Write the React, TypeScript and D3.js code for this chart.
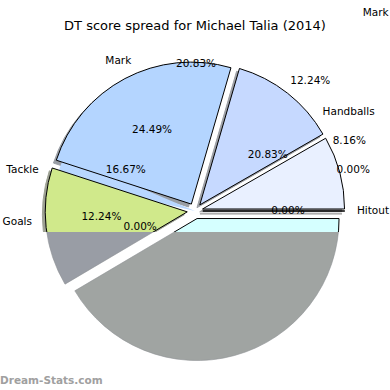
import React from "react";
import * as d3 from "d3";

// ---------- data ----------
const title = "DT score spread for Michael Talia (2014)";
const sliceKeys = ["Hitout", "s2", "Handballs", "Mark", "Tackle", "Goals", "s7"];
const sliceShares = [0, 8.3, 12.2, 24.5, 0, 13.5, 41.5];
const outerLabelTexts = ["Hitout", "0.00%", "8.16%", "Handballs", "12.24%", "20.83%", "Mark", "Tackle", "Goals", "Mark"];
const innerLabelTexts = ["0.00%", "20.83%", "24.49%", "16.67%", "12.24%", "0.00%"];
const watermark = "Dream-Stats.com";

// ---------- styles / layout ----------
const W = 390;
const H = 390;
const CX = 195;
const CY = 211;
const R = 142;
const EXPLODE = 0.055;
const OVERLAY_TOP = 232;
const sliceColors = ["#ffffff", "#e9f0ff", "#c6d9ff", "#b4d5ff", "#b8d7ff", "#d0e98b", "#d5ffff"];
const overlayColors: Record<string, string> = { Goals: "#999da5", s7: "#a0a4a2" };
const bandHalfWidthDeg: Record<string, number> = { Tackle: 5 };
// polar label layout: angle in degrees (counter-clockwise from 3 o'clock), distance in radii
const outerLabelLayout = [
  { a: 0.4, d: 1.14, anchor: "start" },
  { a: 16.5, d: 1.04, anchor: "start" },
  { a: 27.2, d: 1.09, anchor: "start" },
  { a: 38, d: 1.14, anchor: "start" },
  { a: 48.7, d: 1.23, anchor: "middle" },
  { a: 89.6, d: 1.04, anchor: "middle" },
  { a: 117, d: 1.19, anchor: "middle" },
  { a: 165, d: 1.14, anchor: "end" },
  { a: 183.5, d: 1.15, anchor: "end" },
  { a: 47.7, d: 1.89, anchor: "middle" },
];
const innerLabelLayout = [
  { a: 0.6, d: 0.655 },
  { a: 38, d: 0.65 },
  { a: 117.7, d: 0.65 },
  { a: 148.7, d: 0.57 },
  { a: 183, d: 0.66 },
  { a: 195, d: 0.4 },
];

const FONT = "'DejaVu Sans', sans-serif";
const LABEL_SIZE = 10.5;

function polar(aDeg: number, d: number) {
  const a = (aDeg * Math.PI) / 180;
  return [CX + d * R * Math.cos(a), CY - d * R * Math.sin(a)];
}

export default function App() {
  const pie = d3
    .pie<number>()
    .sort(null)
    .startAngle(Math.PI / 2)
    .endAngle(Math.PI / 2 - 2 * Math.PI);
  const arcs = pie(sliceShares);
  const arcGen = d3.arc<any>().innerRadius(0).outerRadius(R);

  const wedges = arcs.map((a, i) => {
    const mid = (a.startAngle + a.endAngle) / 2;
    const ox = CX + EXPLODE * R * Math.sin(mid);
    const oy = CY - EXPLODE * R * Math.cos(mid);
    return { key: sliceKeys[i], arc: a, ox, oy, mid, color: sliceColors[i], path: arcGen(a) as string };
  });

  const sh = 0.02 * R;

  return (
    <svg
      width={W}
      height={H}
      viewBox={`0 0 ${W} ${H}`}
      style={{ position: "absolute", left: 0, top: 0, background: "#fff" }}
    >
      <defs>
        <clipPath id="lowerClip">
          <rect x={0} y={OVERLAY_TOP} width={W} height={H - OVERLAY_TOP} />
        </clipPath>
      </defs>
      <rect x={0} y={0} width={W} height={H} fill="#fff" />
      <text x={W / 2} y={30} textAnchor="middle" fontFamily={FONT} fontSize={13} fill="#000">
        {title}
      </text>

      {/* shadows */}
      {wedges
        .filter((w) => !(w.key in bandHalfWidthDeg))
        .map((w) => {
          const c = d3.rgb(w.color);
          const dark = d3.rgb(c.r * 0.3, c.g * 0.3, c.b * 0.3).toString();
          return (
            <path
              key={"sh" + w.key}
              d={w.path}
              transform={`translate(${w.ox - sh},${w.oy + sh})`}
              fill={dark}
              stroke={dark}
              strokeWidth={1}
              opacity={0.5}
            />
          );
        })}

      {/* band under zero-width slices */}
      {wedges
        .filter((w) => w.key in bandHalfWidthDeg)
        .map((w) => {
          const hw = (bandHalfWidthDeg[w.key] * Math.PI) / 180;
          const p = d3.arc<any>().innerRadius(0).outerRadius(R)({
            startAngle: w.arc.startAngle + hw,
            endAngle: w.arc.startAngle - hw,
          }) as string;
          return <path key={"band" + w.key} d={p} transform={`translate(${CX},${CY})`} fill={w.color} />;
        })}

      {/* wedges */}
      {wedges
        .filter((w) => !(w.key in bandHalfWidthDeg))
        .map((w) => (
          <path
            key={"w" + w.key}
            d={w.path}
            transform={`translate(${w.ox},${w.oy})`}
            fill={w.color}
            stroke="#000"
            strokeWidth={1}
            strokeLinejoin="round"
          />
        ))}

      {/* grey lower overlay */}
      <g clipPath="url(#lowerClip)">
        <rect x={0} y={OVERLAY_TOP} width={W} height={H - OVERLAY_TOP} fill="#fff" />
        {wedges
          .filter((w) => w.key in overlayColors)
          .map((w) => (
            <path
              key={"ov" + w.key}
              d={w.path}
              transform={`translate(${w.ox},${w.oy})`}
              fill={overlayColors[w.key]}
              stroke="#8d9193"
              strokeWidth={0.6}
            />
          ))}
      </g>

      {/* labels */}
      {outerLabelTexts.map((t, i) => {
        const L = outerLabelLayout[i];
        const [x, y] = polar(L.a, L.d);
        return (
          <text
            key={"ol" + i}
            x={x}
            y={y}
            textAnchor={L.anchor as any}
            dominantBaseline="central"
            fontFamily={FONT}
            fontSize={LABEL_SIZE}
            fill="#000"
          >
            {t}
          </text>
        );
      })}
      {innerLabelTexts.map((t, i) => {
        const L = innerLabelLayout[i];
        const [x, y] = polar(L.a, L.d);
        return (
          <text
            key={"il" + i}
            x={x}
            y={y}
            textAnchor="middle"
            dominantBaseline="central"
            fontFamily={FONT}
            fontSize={LABEL_SIZE}
            fill="#000"
          >
            {t}
          </text>
        );
      })}

      <text x={0} y={384} fontFamily={FONT} fontSize={10.5} fontWeight="bold" fill="#a0a0a0">
        {watermark}
      </text>
    </svg>
  );
}
